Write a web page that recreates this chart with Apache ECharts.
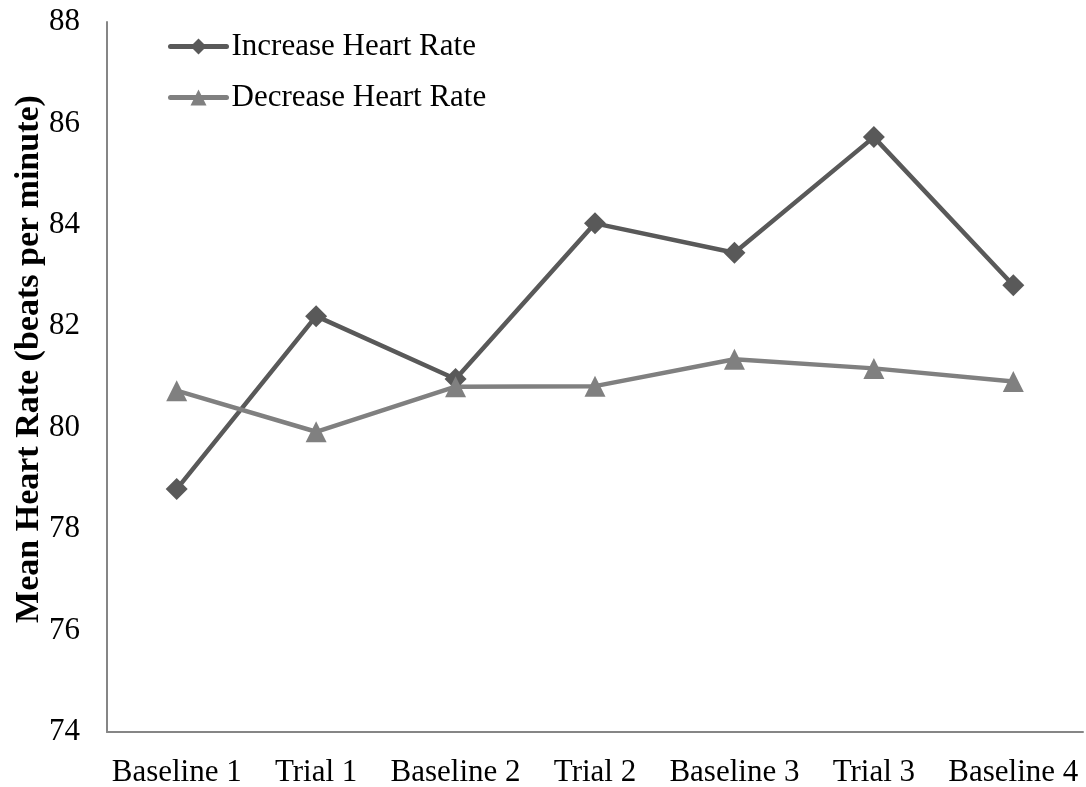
<!DOCTYPE html>
<html>
<head>
<meta charset="utf-8">
<script src="https://cdn.jsdelivr.net/npm/echarts@6/dist/echarts.min.js"></script>
<style>html,body{margin:0;padding:0;background:#fff}#c{width:1086px;height:787px}</style>
</head>
<body>
<div id="c"></div>
<script>
const categories = ['Baseline 1', 'Trial 1', 'Baseline 2', 'Trial 2', 'Baseline 3', 'Trial 3', 'Baseline 4'];
const increaseHR = [78.79, 82.20, 80.96, 84.03, 83.45, 85.73, 82.81];
const decreaseHR = [80.73, 79.92, 80.81, 80.82, 81.35, 81.17, 80.91];
const seriesNames = ['Increase Heart Rate', 'Decrease Heart Rate'];
const yAxisTitle = 'Mean Heart Rate (beats per minute)';

const font = '"Liberation Serif", "Times New Roman", serif';
const chart = echarts.init(document.getElementById('c'), null, {renderer: 'canvas'});
chart.setOption({
  animation: false,
  backgroundColor: '#ffffff',
  grid: {left: 107, right: 3, top: 22, bottom: 55, containLabel: false, outerBoundsMode: 'none'},
  legend: {
    orient: 'vertical',
    left: 163,
    top: 26,
    itemWidth: 56,
    itemHeight: 20,
    itemGap: 20,
    lineStyle: {width: 5, cap: 'round'},
    textStyle: {fontFamily: font, fontSize: 31, color: '#000'},
    data: seriesNames
  },
  xAxis: {
    type: 'category',
    data: categories,
    boundaryGap: true,
    axisLine: {lineStyle: {color: '#868686', width: 2}},
    axisTick: {show: false},
    axisLabel: {fontFamily: font, fontSize: 31, color: '#000', margin: 25, interval: 0}
  },
  yAxis: {
    type: 'value',
    min: 74,
    max: 88,
    interval: 2,
    name: yAxisTitle,
    nameLocation: 'middle',
    nameGap: 61,
    nameMoveOverlap: false,
    nameTextStyle: {fontFamily: font, fontSize: 34, fontWeight: 'bold', color: '#000', padding: [0, 0, 0, 36]},
    axisLine: {show: true, lineStyle: {color: '#868686', width: 2}},
    axisTick: {show: false},
    splitLine: {show: false},
    axisLabel: {fontFamily: font, fontSize: 31, color: '#000', margin: 27}
  },
  series: [
    {
      name: seriesNames[0],
      type: 'line',
      data: increaseHR,
      symbol: 'diamond',
      symbolSize: 22,
      color: '#595959',
      lineStyle: {width: 4.5, color: '#595959'},
      itemStyle: {color: '#595959'}
    },
    {
      name: seriesNames[1],
      type: 'line',
      data: decreaseHR,
      symbol: 'triangle',
      symbolSize: 21,
      color: '#808080',
      lineStyle: {width: 4.5, color: '#808080'},
      itemStyle: {color: '#808080'}
    }
  ]
});
</script>
</body>
</html>
